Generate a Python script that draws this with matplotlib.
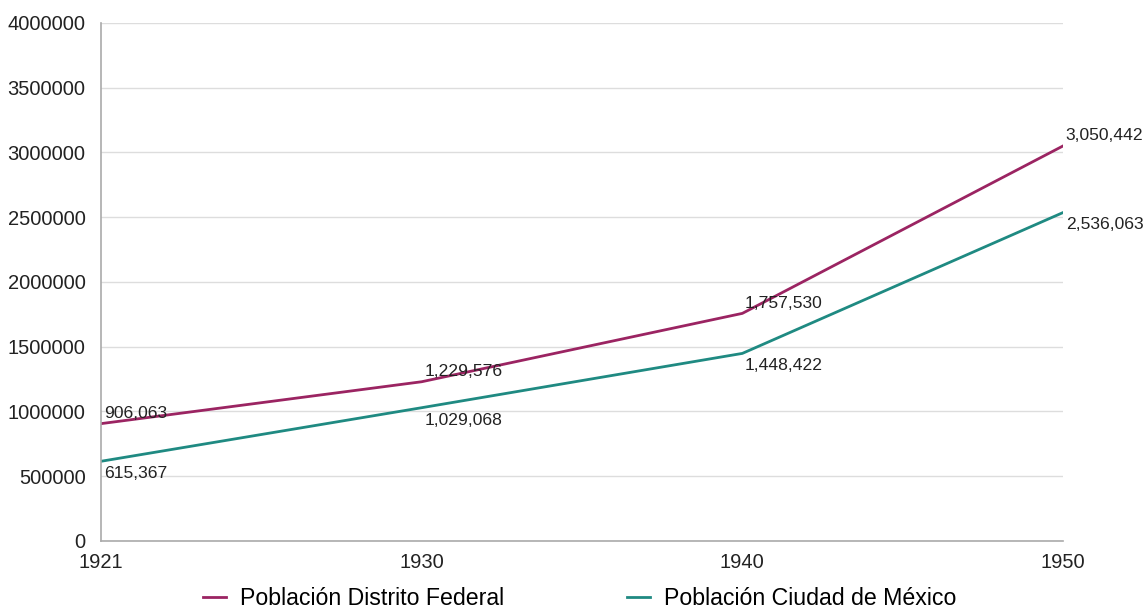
import matplotlib
matplotlib.use("Agg")
import matplotlib.pyplot as plt

years = ["1921", "1930", "1940", "1950"]
distrito_federal = [906063, 1229576, 1757530, 3050442]
ciudad_mexico = [615367, 1029068, 1448422, 2536063]
y_ticks = [0, 500000, 1000000, 1500000, 2000000, 2500000, 3000000, 3500000, 4000000]

plt.rcParams['font.family'] = ['Liberation Sans', 'DejaVu Sans']

fig = plt.figure(figsize=(11.46, 6.11), dpi=100)
ax = fig.add_axes([0.0881, 0.1146, 0.8395, 0.8478])

x = list(range(len(years)))
c_df = "#9b2462"
c_cm = "#1f8a82"
ax.plot(x, distrito_federal, color=c_df, lw=2, label="Población Distrito Federal")
ax.plot(x, ciudad_mexico, color=c_cm, lw=2, label="Población Ciudad de México")

# value labels: above for Distrito Federal, below for Ciudad de México
for xi, v in zip(x, distrito_federal):
    ax.annotate(f"{v:,}", (xi, v), xytext=(2, 2), textcoords="offset points",
                ha="left", va="bottom", fontsize=12.6, color="#222222")
for xi, v in zip(x, ciudad_mexico):
    ax.annotate(f"{v:,}", (xi, v), xytext=(2, -3.5), textcoords="offset points",
                ha="left", va="top", fontsize=12.6, color="#222222")

ax.set_xlim(0, len(years) - 1)
ax.set_ylim(0, 4000000)
ax.set_xticks(x)
ax.set_xticklabels(years)
ax.set_yticks(y_ticks)
ax.set_yticklabels([str(t) for t in y_ticks])
ax.tick_params(length=0, labelsize=14.5, labelcolor="#222222")
ax.tick_params(axis="y", pad=11)
ax.tick_params(axis="x", pad=9)

ax.grid(axis="y", color="#dddddd", lw=1)
ax.set_axisbelow(True)
for s in ["top", "right"]:
    ax.spines[s].set_visible(False)
ax.spines["left"].set_color("#aaaaaa")
ax.spines["bottom"].set_color("#aaaaaa")
ax.spines["left"].set_linewidth(1.2)
ax.spines["bottom"].set_linewidth(1.2)

fig.legend(loc="center", bbox_to_anchor=(0.506, 0.02), ncol=2, frameon=False,
           fontsize=16.7, handlelength=1.0, columnspacing=5.3, handletextpad=0.6)

fig.savefig("out.png", dpi=100, facecolor="white")
